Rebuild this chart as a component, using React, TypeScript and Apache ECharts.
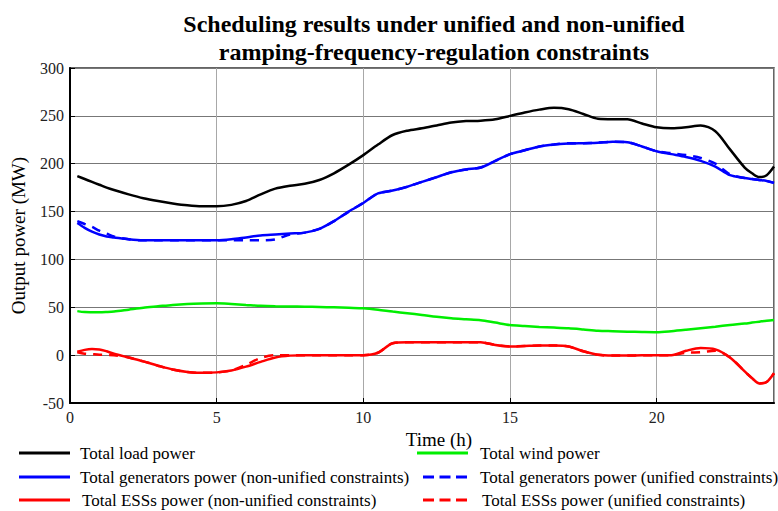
import React, { useEffect, useRef } from "react";
import * as echarts from "echarts";

const times = [0.25,0.5,0.75,1,1.25,1.5,2,2.5,3,3.5,4,4.5,5,5.5,6,6.5,7,7.5,8,8.5,9,9.5,10,10.5,11,11.5,12,12.5,13,13.5,14,14.5,15,15.5,16,16.5,17,17.5,18,18.5,19,19.5,20,20.5,21,21.5,22,22.5,23,23.25,23.5,23.75,24];

const loadPower = [187,184,181,178,175,172.5,168,164,161,158.5,156.5,155.5,155.5,157,161,168,174,177,179,183,190,199,209,220,230,234.5,237,240,243,244.5,245,246.5,250,253.5,256.5,258.5,257,252,247,246.5,246.5,242,238,237,238,240,234,215,196,190,186,188,197];

const windPower = [46,45,44.8,44.7,45,45.5,47.5,49.5,51,52.5,53.5,54,54.2,53.5,52.5,51.5,51,50.8,50.6,50.3,50,49.5,49,47.5,45.5,43.8,42,40,38.5,37.5,36.5,34,31.5,30.5,29.5,28.8,28,26.8,25.5,25,24.5,24.2,24,25,26.5,28.2,29.7,31.5,33,34,35,36,36.7];

const genNonUnified = [138,133,129,126,124,123,121,120,120,120,120,120,120,121,123,125,126,127,128,132,140,150,159,169,172,176,181,186,191,194,196,203,210,214,218,220,221,221.5,222,223,222.5,218,213,210,207,203,197,188,185,184,183,182,180];

const genUnified = [140,137,134,130,127,124,121,120,120,120,120,120,120,120,120,120,121,126,128,132,140,150,159,169,172,176,181,186,191,194,196,203,210,214,218,220,221.5,221.5,222,223,222.5,218,213,211,209,206,200,189,185,184,183,182,180];

const essNonUnified = [3.5,5.5,6.3,6,4,1.5,-2.5,-6.5,-11,-15,-17.5,-18.5,-18,-16,-12,-7,-2.5,-0.5,0,0,0,0,0,2.5,12.5,13.5,13.5,13.5,13.5,13.5,13.5,10.5,9,9.5,10,10,9,4,0.3,-0.5,-0.5,0,0,0,4.5,7.5,6,-2.5,-17,-24,-29.5,-28,-19];

const essUnified = [3,1.5,1,0.5,0.3,0,-2.5,-6.5,-11,-15,-17.5,-18.5,-18,-16,-10,-3,0,0,0,0,0,0,0,2.5,12.5,13.5,13.5,13.5,13.5,13.5,13.5,10.5,9,9.5,10,10,9,4,0.3,-0.5,-0.5,0,0,0,2.5,3,4.5,-2.5,-17,-24,-29.5,-28,-19];

const xTicks = [0, 5, 10, 15, 20];

const names = {
  load: "Total load power",
  wind: "Total wind power",
  genN: "Total generators power (non-unified constraints)",
  genU: "Total generators power (unified constraints)",
  essN: "Total ESSs power (non-unified constraints)",
  essU: "Total ESSs power (unified constraints)",
};

const FONT = "'Liberation Serif', 'Times New Roman', serif";

const SOLID_ICON = "path://M0,0h51v3h-51z";
const DASH_ICON = "path://M0,0h11v3h-11z M16.5,0h11v3h-11z M33,0h11v3h-11z";

function pairs(vals: number[]) {
  return times.map((t, i) => [t, vals[i]]);
}

export default function App() {
  const ref = useRef<HTMLDivElement>(null);
  useEffect(() => {
    if (!ref.current) return;
    const chart = echarts.init(ref.current, undefined, { renderer: "svg" });
    const lineSeries = (name: string, vals: number[], color: string, dashed: boolean) => ({
      name,
      type: "line",
      data: pairs(vals),
      showSymbol: false,
      symbol: "none",
      smooth: 0.3,
      lineStyle: { color, width: 2.5, type: dashed ? [9, 7] : "solid" },
      itemStyle: { color },
      z: dashed ? 2 : 3,
    });
    const legendItem = (name: string, left: number, center: number, dashed: boolean, gap: number) => ({
      left,
      top: center - 9,
      itemWidth: dashed ? 44 : 51,
      itemHeight: 3,
      padding: 0,
      data: [{ name, icon: dashed ? DASH_ICON : SOLID_ICON }],
      textStyle: { fontFamily: FONT, fontSize: 17, color: "#000", lineHeight: 18, padding: [0, 0, 0, gap] },
    });
    chart.setOption({
      animation: false,
      backgroundColor: "#ffffff",
      title: {
        text: "Scheduling results under unified and non-unified\nramping-frequency-regulation constraints",
        left: 429,
        top: 5,
        textAlign: "center",
        textStyle: { fontFamily: FONT, fontWeight: "bold", fontSize: 24, lineHeight: 28, color: "#000" },
      },
      grid: { left: 70, right: 4, top: 68, bottom: 108, show: true, borderColor: "#333", borderWidth: 1.5 },
      xAxis: {
        type: "value",
        min: 0,
        max: 24,
        interval: 5,
        name: "Time (h)",
        nameLocation: "middle",
        nameGap: 22,
        nameTextStyle: { fontFamily: FONT, fontSize: 19, color: "#000", padding: [0, 0, 0, 34] },
        axisLine: { show: true, onZero: false, lineStyle: { color: "#000", width: 2 } },
        axisTick: { show: true, inside: true, length: 5, lineStyle: { color: "#000" } },
        axisLabel: {
          fontFamily: FONT, fontSize: 16, color: "#222", margin: 6, showMaxLabel: false,
          formatter: (v: number) => (xTicks.includes(v) ? String(v) : ""),
        },
        splitLine: { show: true, lineStyle: { color: "#a8a8a8", width: 1 } },
      },
      yAxis: {
        type: "value",
        min: -50,
        max: 300,
        interval: 50,
        name: "Output power (MW)",
        nameLocation: "middle",
        nameGap: 42,
        nameTextStyle: { fontFamily: FONT, fontSize: 19, color: "#000" },
        axisLine: { show: true, lineStyle: { color: "#000", width: 2 } },
        axisTick: { show: true, inside: true, length: 5, lineStyle: { color: "#000" } },
        axisLabel: { fontFamily: FONT, fontSize: 16, color: "#222", margin: 6 },
        splitLine: { show: true, lineStyle: { color: "#777", width: 1 } },
      },
      legend: [
        legendItem(names.load, 19, 453, false, 5),
        legendItem(names.genN, 19, 477, false, 5),
        legendItem(names.essN, 19, 500, false, 7),
        legendItem(names.wind, 417, 453, false, 7),
        legendItem(names.genU, 423, 477, true, 8),
        legendItem(names.essU, 423, 500, true, 10),
      ],
      series: [
        lineSeries(names.genU, genUnified, "#0000ff", true),
        lineSeries(names.essU, essUnified, "#ff0000", true),
        lineSeries(names.wind, windPower, "#00ee00", false),
        lineSeries(names.essN, essNonUnified, "#ff0000", false),
        lineSeries(names.genN, genNonUnified, "#0000ff", false),
        lineSeries(names.load, loadPower, "#000000", false),
      ],
    });
    return () => chart.dispose();
  }, []);
  return (
    <div
      ref={ref}
      style={{ position: "fixed", left: 0, top: 0, width: 778, height: 511, background: "#fff" }}
    />
  );
}
